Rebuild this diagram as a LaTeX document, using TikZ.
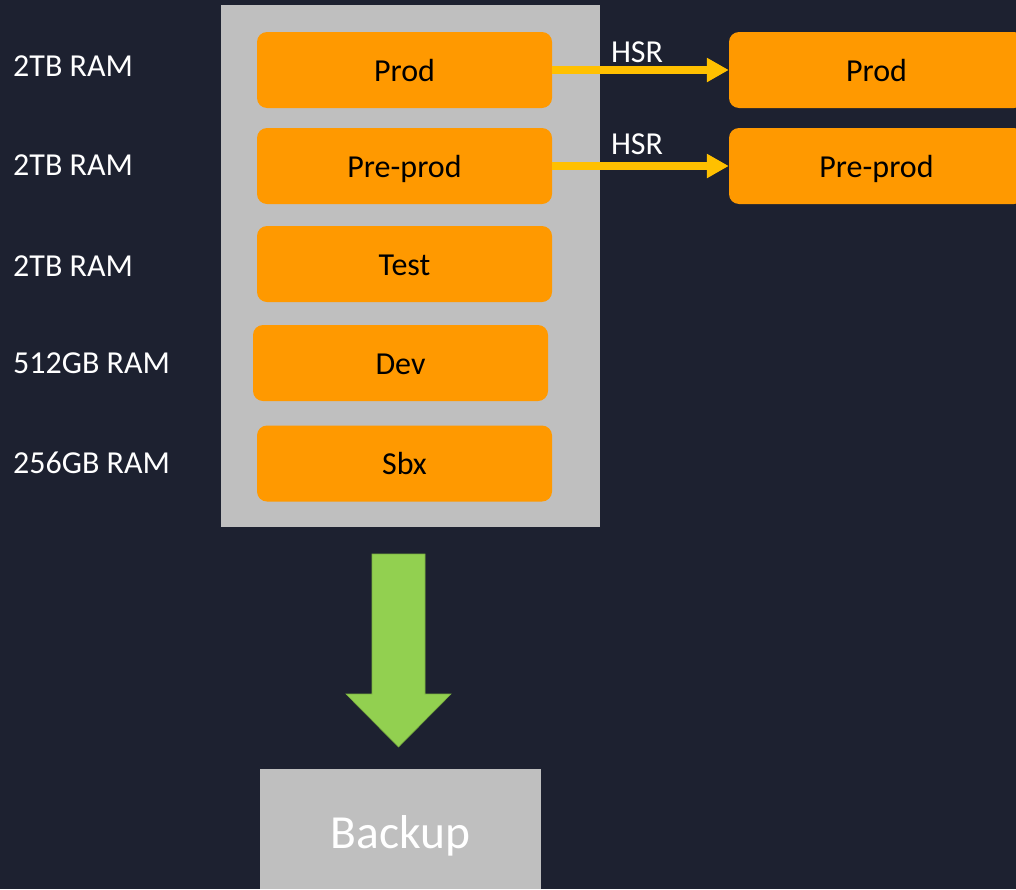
\documentclass[tikz,border=0pt]{standalone}
\usepackage{fontspec}
\setmainfont{Carlito}
\usetikzlibrary{arrows.meta}
\definecolor{bgnavy}{HTML}{1D2130}
\definecolor{panelgrey}{HTML}{BFBFBF}
\definecolor{envorange}{HTML}{FF9900}
\definecolor{hsryellow}{HTML}{FFC000}
\definecolor{backupgreen}{HTML}{92D050}
\definecolor{greenedge}{HTML}{7AB040}
\tikzset{
  envbox/.style={fill=envorange, rounded corners=10pt, minimum width=295pt,
    minimum height=76pt, inner sep=0pt, text height=22pt, text depth=0pt,
    font=\fontsize{32}{38}\selectfont, text=black},
  ramlabel/.style={anchor=base west, inner sep=0pt, text=white,
    font=\fontsize{32}{38}\selectfont},
  hsrlabel/.style={anchor=base, inner sep=0pt, text=white,
    font=\fontsize{32}{38}\selectfont},
  hsrarrow/.style={draw=hsryellow, line width=7.5pt,
    -{Triangle[length=22pt,width=23pt]}},
}
\begin{document}
\begin{tikzpicture}[x=1pt, y=-1pt]
  \fill[bgnavy] (0,0) rectangle (1016,889);
  \clip (0,0) rectangle (1016,889);

  % grey host panel
  \node[fill=panelgrey, minimum width=379pt, minimum height=522pt, inner sep=0pt]
    (host) at (410.5,266) {};

  % environments on the host
  \node[envbox] (prod)    at (404.5,70)  {Prod};
  \node[envbox] (preprod) at (404.5,166) {Pre-prod};
  \node[envbox] (test)    at (404.5,264) {Test};
  \node[envbox] (dev)     at (400.5,363) {Dev};
  \node[envbox] (sbx)     at (404.5,463.5) {Sbx};

  % replicated environments
  \node[envbox] (rprod)    at (876.5,70)  {Prod};
  \node[envbox] (rpreprod) at (876.5,166) {Pre-prod};

  % memory sizes
  \node[ramlabel] (ram1) at (13,76)  {2TB RAM};
  \node[ramlabel] (ram2) at (13,175) {2TB RAM};
  \node[ramlabel] (ram3) at (13,276) {2TB RAM};
  \node[ramlabel] (ram4) at (13,373) {512GB RAM};
  \node[ramlabel] (ram5) at (13,473) {256GB RAM};

  % system replication links
  \draw[hsrarrow] (prod.east) -- (rprod.west);
  \draw[hsrarrow] (preprod.east) -- (rpreprod.west);
  \node[hsrlabel] (hsr1) at (637,62)  {HSR};
  \node[hsrlabel] (hsr2) at (637,154) {HSR};

  % backup target
  \node[fill=panelgrey, minimum width=281pt, minimum height=120pt, inner sep=0pt,
    text height=38pt, text depth=0pt, text=white,
    font=\fontsize{47.5}{56}\selectfont] (backup) at (400.5,829) {Backup};

  % block arrow from host to backup
  \coordinate (gtop) at (398.5,554);
  \coordinate (gtip) at (398.5,747);
  \fill[backupgreen, draw=greenedge, line width=0.6pt]
    ([xshift=-26.5pt]gtop) -- ([xshift=26.5pt]gtop) -- (425,694) -- (451,694)
    -- (gtip) -- (346,694) -- (372,694) -- cycle;
\end{tikzpicture}
\end{document}
